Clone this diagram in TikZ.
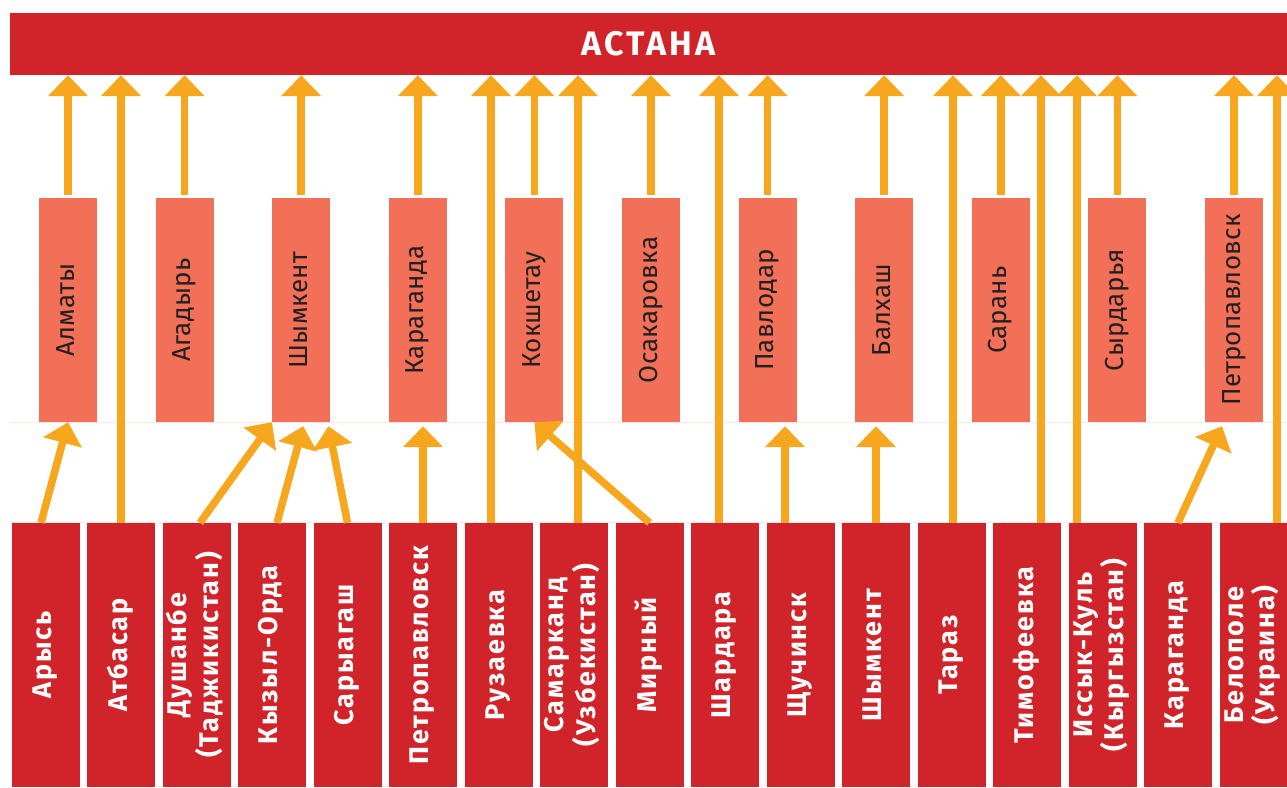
\documentclass[tikz,border=0pt]{standalone}
\usepackage{fontspec}
\setmainfont{Fira Sans}
\usetikzlibrary{arrows.meta,calc}
\definecolor{barRed}{HTML}{D1232A}
\definecolor{boxCoral}{HTML}{F27058}
\definecolor{arrowOrange}{HTML}{F6A71D}
\definecolor{textDark}{HTML}{231F20}
\newcommand{\vtext}[1]{\rotatebox{90}{\begin{tabular}{@{}c@{}}#1\end{tabular}}}

\begin{document}
\begin{tikzpicture}
[x=1pt,y=-1pt,%
  topDecorate/.style={shape=rectangle,fill=barRed,text=white,inner sep=0pt,minimum width=1277pt,minimum height=62pt,font=\fontsize{34}{40}\selectfont\bfseries\addfontfeature{LetterSpace=9}},%
  midDecorate/.style={shape=rectangle,fill=boxCoral,text=textDark,inner sep=0pt,minimum width=58pt,minimum height=224pt,font=\fontsize{26}{30}\selectfont\addfontfeature{LetterSpace=1}},%
  baseDecorate/.style={shape=rectangle,fill=barRed,text=white,inner sep=0pt,minimum width=68pt,minimum height=264pt,font=\fontsize{27}{28}\selectfont\bfseries\addfontfeature{LetterSpace=7}},%
  arrowDecorate/.style={-{Triangle[width=39pt,length=21pt]},line width=7.5pt,draw=arrowOrange}]
\useasboundingbox (0,0) rectangle (1287,787);
%% faint guide lines
\draw[red!10,line width=0.6pt] (10,422) -- (1287,422) (10,522.5) -- (1287,522.5);
%% top bar
\node (astana) at (651,44) [topDecorate,minimum width=1277pt,xshift=-2.5pt] {АСТАНА};
%% middle row
\foreach \nodename/\i/\txt in {almaty/0/Алматы, agadyr/1/Агадырь, shymkent/2/Шымкент,
  karaganda/3/Караганда, kokshetau/4/Кокшетау, osakarovka/5/Осакаровка, pavlodar/6/Павлодар,
  balkhash/7/Балхаш, saran/8/Сарань, syrdarya/9/Сырдарья, petropavlovsk/10/Петропавловск}
{
  \node (\nodename) at (68+116.6*\i,310) [midDecorate] {\vtext{\txt}};
}
%% bottom row
\foreach \nodename/\i/\txt in {arys/0/Арысь, atbasar/1/Атбасар, dushanbe/2/Душанбе\\(Таджикистан),
  kyzylorda/3/Кызыл-Орда, saryagash/4/Сарыагаш, petrob/5/Петропавловск, ruzaevka/6/Рузаевка,
  samarkand/7/Самарканд\\(Узбекистан), mirny/8/Мирный, shardara/9/Шардара, shchuchinsk/10/Щучинск,
  shymkentb/11/Шымкент, taraz/12/Тараз, timofeevka/13/Тимофеевка, issykkul/14/Иссык-Куль\\(Кыргызстан),
  karagandab/15/Караганда, belopole/16/Белополе\\(Украина)}
{
  \node (\nodename) at (45.5+75.5*\i,655) [baseDecorate] {\vtext{\txt}};
}
%% middle row up to the top
\foreach \nodename in {almaty,agadyr,shymkent,karaganda,kokshetau,osakarovka,pavlodar,balkhash,saran,syrdarya,petropavlovsk}
{
  \draw[arrowDecorate,shorten <=3pt] (\nodename.north) -- (\nodename.north |- astana.south);
}
%% bottom row straight up to the top
\foreach \nodename/\dx in {atbasar/0, ruzaevka/-7.5, samarkand/4, shardara/-6, taraz/1.5, timofeevka/14, issykkul/-25.5, belopole/23.5}
{
  \draw[arrowDecorate] ($(\nodename.north)+(\dx,0)$) -- ($(\nodename.north |- astana.south)+(\dx,0)$);
}
%% bottom row up to the middle row
\draw[arrowDecorate] ($(arys.north)+(-4.5,0)$) -- (almaty.south);
\draw[arrowDecorate] ($(dushanbe.north)+(3.5,0)$) -- (shymkent.south west);
\draw[arrowDecorate] ($(kyzylorda.north)+(5,0)$) -- ([xshift=2pt,yshift=-4pt]shymkent.south);
\draw[arrowDecorate] (saryagash.north) -- ([xshift=-2pt,yshift=-4pt]shymkent.south east);
\draw[arrowDecorate,shorten >=4pt] (petrob.north) -- (petrob.north |- karaganda.south);
\draw[arrowDecorate] (mirny.north) -- (kokshetau.south);
\draw[arrowDecorate,shorten >=4pt] ($(shchuchinsk.north)+(-15.5,0)$) -- ($(shchuchinsk.north |- pavlodar.south)+(-15.5,0)$);
\draw[arrowDecorate,shorten >=4pt] (shymkentb.north) -- (shymkentb.north |- balkhash.south);
\draw[arrowDecorate] (karagandab.north) -- ([xshift=-12pt,yshift=-4pt]petropavlovsk.south);
\end{tikzpicture}
\end{document}
